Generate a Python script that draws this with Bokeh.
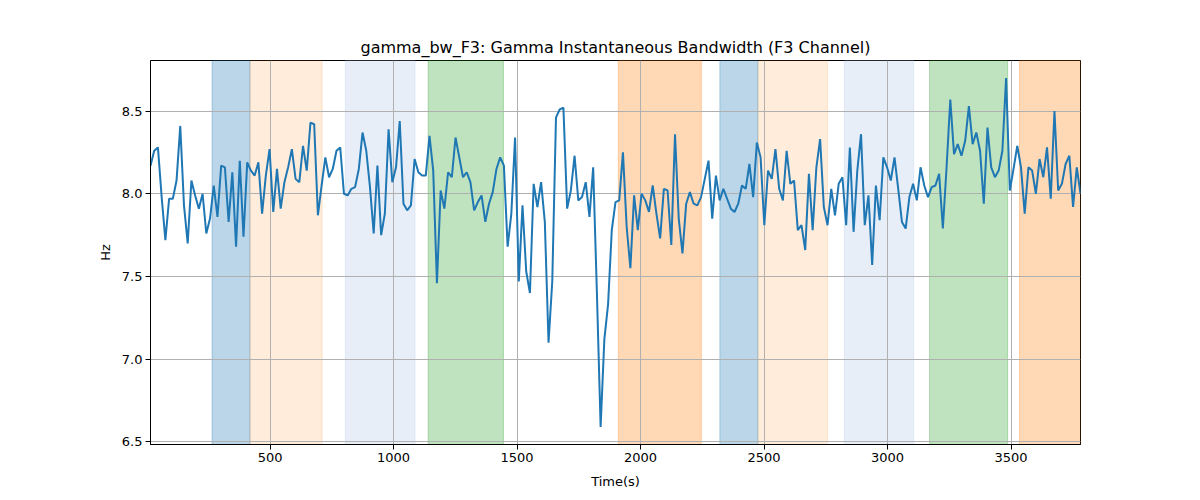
from bokeh.plotting import figure
from bokeh.models import BoxAnnotation, FixedTicker, Range1d, PrintfTickFormatter
from bokeh.embed import file_html
from bokeh.resources import INLINE

# ---- data ----
values = [
    8.17, 8.26, 8.28, 7.98, 7.72, 7.97, 7.97, 8.08, 8.41, 7.93,
    7.70, 8.08, 7.99, 7.91, 8.00, 7.76, 7.85, 8.05, 7.86, 8.17,
    8.16, 7.83, 8.13, 7.68, 8.20, 7.74, 8.19, 8.14, 8.11, 8.19,
    7.88, 8.11, 8.27, 7.89, 8.15, 7.91, 8.07, 8.16, 8.27, 8.09,
    8.07, 8.29, 8.14, 8.43, 8.42, 7.87, 8.05, 8.22, 8.10, 8.15,
    8.26, 8.28, 8.00, 7.99, 8.03, 8.04, 8.15, 8.37, 8.26, 8.04,
    7.76, 8.17, 7.75, 7.88, 8.39, 8.07, 8.16, 8.44, 7.94, 7.90,
    7.93, 8.21, 8.13, 8.11, 8.11, 8.35, 8.14, 7.46, 8.02, 7.91,
    8.13, 8.10, 8.34, 8.22, 8.10, 8.13, 8.07, 7.90, 7.95, 7.99,
    7.83, 7.94, 8.01, 8.15, 8.22, 8.17, 7.68, 7.88, 8.34, 7.47,
    7.93, 7.53, 7.40, 8.06, 7.92, 8.07, 7.83, 7.10, 7.47, 8.46,
    8.51, 8.52, 7.91, 8.02, 8.23, 7.96, 7.98, 8.07, 7.86, 8.16,
    7.40, 6.59, 7.12, 7.33, 7.78, 7.95, 7.96, 8.25, 7.80, 7.55,
    7.99, 7.78, 8.00, 7.96, 7.89, 8.05, 7.88, 7.73, 8.03, 8.02,
    7.69, 8.36, 7.85, 7.64, 7.94, 8.01, 7.94, 7.93, 7.98, 8.09,
    8.20, 7.85, 8.11, 7.96, 8.03, 7.97, 7.91, 7.89, 7.94, 8.05,
    8.03, 8.18, 7.98, 8.31, 8.22, 7.81, 8.14, 8.09, 8.27, 8.03,
    7.96, 8.26, 8.06, 8.08, 7.78, 7.81, 7.66, 8.12, 7.78, 8.16,
    8.33, 7.92, 7.81, 8.03, 7.87, 8.06, 8.10, 7.81, 8.28, 7.77,
    8.14, 8.36, 7.81, 7.99, 7.57, 8.05, 7.84, 8.22, 8.16, 8.08,
    8.22, 8.03, 7.83, 7.79, 7.98, 8.06, 7.96, 8.16, 8.05, 7.98,
    8.04, 8.05, 8.12, 7.79, 8.16, 8.57, 8.24, 8.30, 8.23, 8.32,
    8.53, 8.30, 8.37, 8.26, 7.94, 8.40, 8.16, 8.10, 8.14, 8.26,
    8.70, 8.02, 8.15, 8.29, 8.16, 7.88, 8.16, 8.14, 8.00, 8.21,
    8.10, 8.28, 7.97, 8.50, 8.02, 8.06, 8.18, 8.23, 7.92, 8.16,
    8.00,
]
T0 = 16.0
DT = 15.06
times = [T0 + DT * i for i in range(len(values))]

band_starts = [265, 419, 805, 1140, 1910, 2321, 2476, 2825, 3170, 3534]
band_ends = [419, 711, 1087, 1445, 2246, 2475, 2757, 3106, 3486, 3800]
band_colors = ["#1f77b4", "#ff7f0e", "#aec7e8", "#2ca02c", "#ff7f0e",
               "#1f77b4", "#ff7f0e", "#aec7e8", "#2ca02c", "#ff7f0e"]
band_alphas = [0.3, 0.15, 0.3, 0.3, 0.3, 0.3, 0.15, 0.3, 0.3, 0.3]

x_ticks = [500, 1000, 1500, 2000, 2500, 3000, 3500]
y_ticks = [6.5, 7.0, 7.5, 8.0, 8.5]

title = "gamma_bw_F3: Gamma Instantaneous Bandwidth (F3 Channel)"
FONT = "DejaVu Sans"

ymin, ymax = min(values), max(values)
pad = (ymax - ymin) * 0.05

p = figure(width=1184, height=492, output_backend="svg", toolbar_location=None,
           x_range=Range1d(times[0], times[-1]),
           y_range=Range1d(ymin - pad, ymax + pad),
           min_border_left=150, min_border_right=104,
           min_border_top=60, min_border_bottom=48,
           title=title)
p.title.align = "center"
p.title.text_font = FONT
p.title.text_font_size = "16px"
p.title.text_font_style = "normal"
p.title.text_color = "black"
p.title.standoff = 8

for s, e, c, a in zip(band_starts, band_ends, band_colors, band_alphas):
    p.add_layout(BoxAnnotation(left=s, right=e, fill_color=c, fill_alpha=a,
                               line_color=c, line_alpha=a, line_width=1,
                               level="image"))

p.line(times, values, line_color="#1f77b4", line_width=2)

p.xaxis.ticker = FixedTicker(ticks=x_ticks)
p.yaxis.ticker = FixedTicker(ticks=y_ticks)
p.yaxis.formatter = PrintfTickFormatter(format="%.1f")
p.xaxis.axis_label = "Time(s)"
p.yaxis.axis_label = "Hz"
for ax in (p.xaxis, p.yaxis):
    ax.axis_label_text_font = FONT
    ax.axis_label_text_font_size = "13px"
    ax.axis_label_text_font_style = "normal"
    ax.axis_label_text_color = "black"
    ax.major_label_text_font = FONT
    ax.major_label_text_font_size = "13px"
    ax.major_label_text_color = "black"
    ax.major_tick_out = 5
    ax.major_tick_in = 0
    ax.minor_tick_line_color = None
    ax.axis_line_color = "black"
    ax.major_tick_line_color = "black"
    ax.major_label_standoff = 3
p.xaxis.axis_label_standoff = 9
p.yaxis.axis_label_standoff = 6

p.xgrid.grid_line_color = "#b0b0b0"
p.ygrid.grid_line_color = "#b0b0b0"
p.xgrid.grid_line_width = 1
p.ygrid.grid_line_width = 1
p.outline_line_color = "black"
p.outline_line_width = 1
p.background_fill_color = "white"
p.border_fill_color = "white"

open("out.html", "w").write(file_html(p, INLINE))
